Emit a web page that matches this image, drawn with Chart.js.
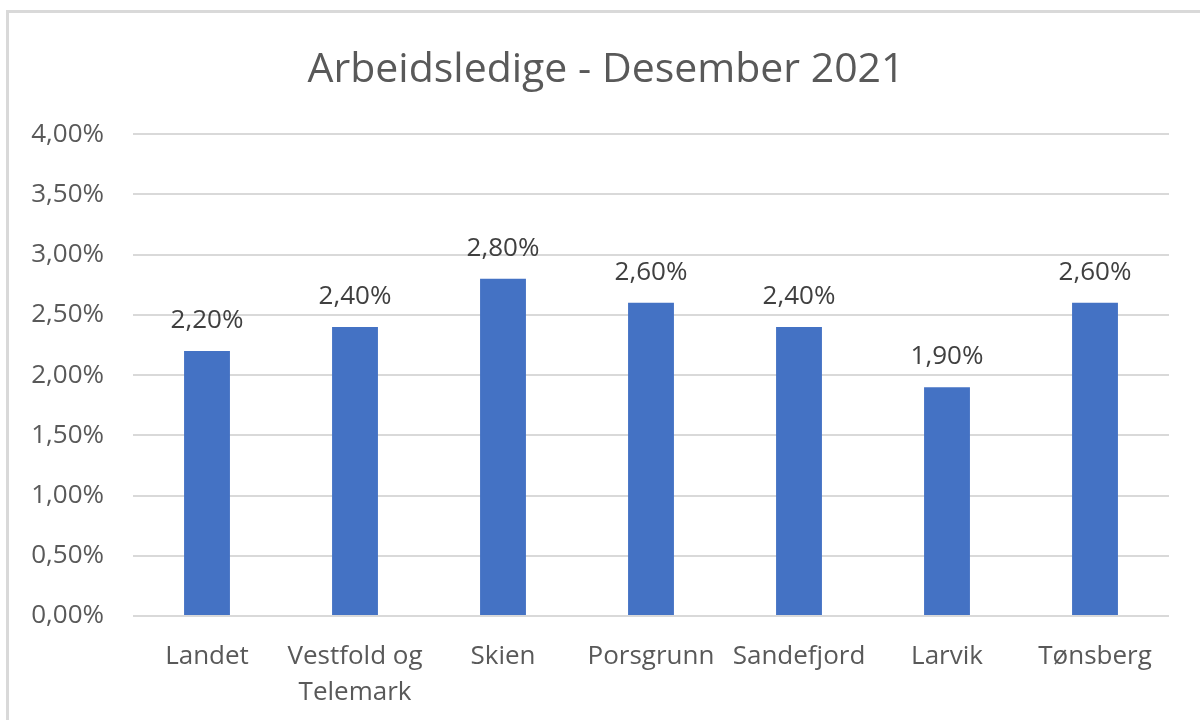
<!DOCTYPE html>
<html>
<head>
<meta charset="utf-8">
<script src="https://cdn.jsdelivr.net/npm/chart.js@4.4.1/dist/chart.umd.min.js"></script>
<style>
  html, body { margin: 0; padding: 0; background: #ffffff; overflow: hidden; }
  #frame { position: absolute; left: 6px; top: 10px; width: 1240px; height: 780px; border: 3px solid #d9d9d9; }
  #c { position: absolute; left: 0; top: 0; }
</style>
</head>
<body>
<div id="frame"></div>
<canvas id="c" width="1200" height="720"></canvas>
<script>
const chartTitle = 'Arbeidsledige - Desember 2021';
const categories = ['Landet', ['Vestfold og', 'Telemark'], 'Skien', 'Porsgrunn', 'Sandefjord', 'Larvik', 'Tønsberg'];
const values = [2.2, 2.4, 2.8, 2.6, 2.4, 1.9, 2.6];
const yMin = 0, yMax = 4, yStep = 0.5;

const fmt = v => v.toFixed(2).replace('.', ',') + '%';
const FONT = '"Open Sans", "DejaVu Sans", sans-serif';

const valueLabels = {
  id: 'valueLabels',
  afterDatasetsDraw(chart) {
    const ctx = chart.ctx;
    const meta = chart.getDatasetMeta(0);
    ctx.save();
    ctx.font = '26px ' + FONT;
    ctx.fillStyle = '#404040';
    ctx.textAlign = 'center';
    ctx.textBaseline = 'alphabetic';
    meta.data.forEach((bar, i) => {
      ctx.fillText(fmt(values[i]), bar.x, bar.y - 23);
    });
    ctx.restore();
  }
};

new Chart(document.getElementById('c'), {
  type: 'bar',
  data: {
    labels: categories,
    datasets: [{
      data: values,
      backgroundColor: '#4472C4',
      borderWidth: 0,
      categoryPercentage: 1,
      barPercentage: 0.31,
      yAxisID: 'y'
    }]
  },
  plugins: [valueLabels],
  options: {
    responsive: false,
    animation: false,
    devicePixelRatio: 1,
    layout: { padding: { left: 0, right: -12, top: 0, bottom: 0 } },
    plugins: {
      legend: { display: false },
      tooltip: { enabled: false },
      title: {
        display: true,
        text: chartTitle,
        color: '#595959',
        font: { family: FONT, size: 41, weight: 'normal' },
        lineHeight: 1.2,
        padding: { top: 46, bottom: 39 }
      }
    },
    scales: {
      x: {
        grid: { display: false, drawTicks: false },
        border: { display: false },
        ticks: {
          color: '#595959',
          font: { family: FONT, size: 26, lineHeight: 1.4 },
          padding: 22,
          maxRotation: 0,
          autoSkip: false
        },
        afterFit(scale) { scale.height = 104; }
      },
      y: {
        min: yMin,
        max: yMax,
        grid: { color: '#d9d9d9', lineWidth: 2, drawTicks: false },
        border: { display: false },
        ticks: {
          stepSize: yStep,
          color: '#595959',
          font: { family: FONT, size: 26 },
          padding: 29,
          callback: v => fmt(v)
        },
        afterFit(scale) { scale.width = 133; }
      },
      yRight: {
        position: 'right',
        min: yMin,
        max: yMax,
        grid: { display: false, drawTicks: false },
        border: { display: false },
        ticks: { display: false },
        afterFit(scale) { scale.width = 43; }
      }
    }
  }
});
</script>
</body>
</html>
